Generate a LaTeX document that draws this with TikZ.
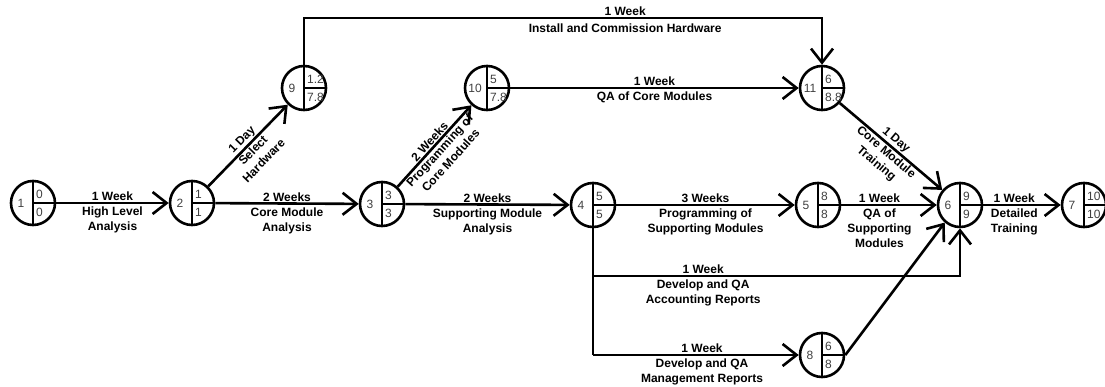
\documentclass[tikz,border=0pt]{standalone}
\usepackage{fontspec}
\setmainfont{Liberation Sans}
\usetikzlibrary{arrows.meta}
\tikzset{
 ev/.style={circle, draw, line width=2.6pt, minimum size=44pt, inner sep=0pt},
 num/.style={font=\fontsize{12}{12}\selectfont, text=black!75, inner sep=0pt},
 act/.style={line width=2.6pt, -{Straight Barb[length=14pt,width=22pt]}},
 plain/.style={line width=2.6pt},
 up/.style={above, inner sep=1pt, font=\fontsize{12}{15}\selectfont\bfseries},
 dn/.style={below, inner sep=3pt, align=center, font=\fontsize{12}{15}\selectfont\bfseries},
}
\newcommand\evnode[5]{%
 \node[ev] (#1) at (#2) {};
 \draw[line width=1.8pt] (#1.north) -- (#1.south) (#1.center) -- (#1.east);
 \node[num] (#1-id) at ([xshift=-12pt]#1.center) {#3};
 \node[num, anchor=west] (#1-t) at ([xshift=3pt,yshift=9pt]#1.center) {#4};
 \node[num, anchor=west] (#1-b) at ([xshift=3pt,yshift=-9pt]#1.center) {#5};
}
\begin{document}
\begin{tikzpicture}[x=1pt,y=-1pt]
\useasboundingbox (0,0) rectangle (1105,387);
\clip (0,0) rectangle (1105,387);
\evnode{n1}{33,203}{1}{0}{0}
\evnode{n2}{192,203}{2}{1}{1}
\evnode{n3}{382,204}{3}{3}{3}
\evnode{n4}{593,205}{4}{5}{5}
\evnode{n5}{818,205}{5}{8}{8}
\evnode{n6}{960,205}{6}{9}{9}
\evnode{n7}{1084,205}{7}{10}{10}
\evnode{n9}{304,88}{9}{1.2}{7.8}
\evnode{n10}{487,88}{10}{5}{7.8}
\evnode{n11}{822,88}{11}{6}{8.8}
\evnode{n8}{822,355}{8}{6}{8}
\coordinate (tl) at (304,18);
\coordinate (tr) at (822,18);
\coordinate (b1) at (593,276);
\coordinate (b2) at (960,276);
\coordinate (b3) at (593,355);
\draw[act] (n1) -- node[up]{1 Week} node[dn]{High Level\\Analysis} (n2);
\draw[act] (n2) -- node[up]{2 Weeks} node[dn]{Core Module\\Analysis} (n3);
\draw[act] (n3) -- node[up]{2 Weeks} node[dn]{Supporting Module\\Analysis} (n4);
\draw[act] (n4) -- node[up]{3 Weeks} node[dn]{Programming of\\Supporting Modules} (n5);
\draw[act] (n5) -- node[up,pos=0.4]{1 Week} node[dn,pos=0.4]{QA of\\Supporting\\Modules} (n6);
\draw[act] (n6) -- node[up,pos=0.4]{1 Week} node[dn,pos=0.4]{Detailed\\Training} (n7);
\draw[act] (n2) -- node[up,sloped]{1 Day} node[dn,sloped,inner sep=1pt]{Select\\Hardware} (n9);
\draw[act] (n3) -- node[up,sloped]{2 Weeks} node[dn,sloped,inner sep=1pt]{Programming of\\Core Modules} (n10);
\draw[act] (n10) -- node[up]{1 Week} node[dn]{QA of Core Modules} (n11);
\draw[act] (n11) -- node[up,sloped]{1 Day} node[dn,sloped,inner sep=1pt]{Core Module\\Training} (n6);
\draw[act] (n9.north) -- (tl) -- node[up,pos=0.62]{1 Week} node[dn,pos=0.62,inner sep=5pt]{Install and Commission Hardware} (tr) -- (n11.north);
\draw[plain] (n4.south) -- (b3);
\draw[act] (b1) -- node[up,pos=0.3]{1 Week} node[dn,pos=0.3]{Develop and QA\\Accounting Reports} (b2) -- (n6.south);
\draw[act] (b3) -- node[up,pos=0.53]{1 Week} node[dn,pos=0.53]{Develop and QA\\Management Reports} (n8.west);
\draw[act] (n8.east) -- (n6.229);
\end{tikzpicture}
\end{document}
